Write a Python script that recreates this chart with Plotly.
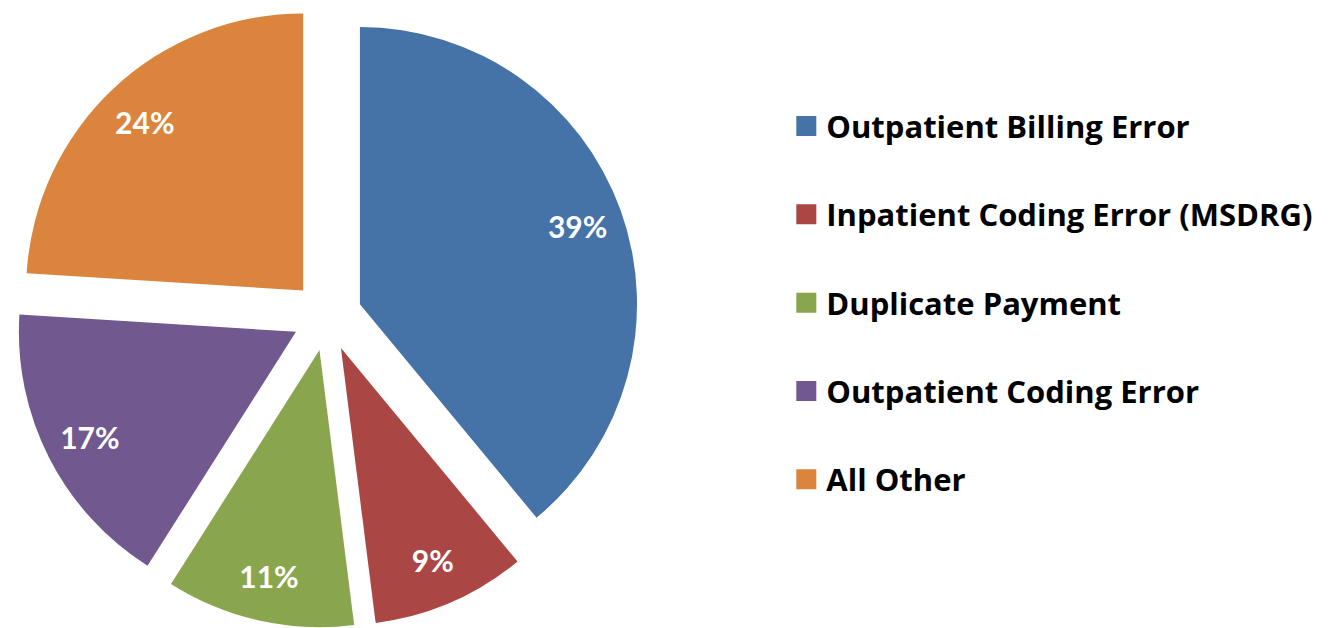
import plotly.graph_objects as go

categories = ["Outpatient Billing Error", "Inpatient Coding Error (MSDRG)",
              "Duplicate Payment", "Outpatient Coding Error", "All Other"]
values = [39, 9, 11, 17, 24]
colors = ["#4572A7", "#AA4643", "#89A54E", "#71588F", "#DB843D"]
pull = 0.126
dom = dict(x=[0, 0.49], y=[0, 1])

fig = go.Figure()
# coloured slices
fig.add_trace(go.Pie(
    labels=categories, values=values, sort=False, direction="clockwise",
    marker=dict(colors=colors, line=dict(width=0)),
    pull=[pull] * len(values), textinfo="none",
    showlegend=False, domain=dom, hoverinfo="label+percent",
))
# transparent ring carrying the percentage labels (places them near the rim)
fig.add_trace(go.Pie(
    labels=categories, values=values, sort=False, direction="clockwise",
    marker=dict(colors=["rgba(0,0,0,0)"] * len(values), line=dict(width=0)),
    pull=[pull] * len(values), hole=0.67,
    texttemplate="<b>%{percent:.0%}</b>", textposition="inside",
    insidetextorientation="horizontal",
    textfont=dict(family="Lato", size=30, color="white"),
    showlegend=False, domain=dom, hoverinfo="skip",
))
for i, (c, col) in enumerate(zip(categories, colors)):
    fig.add_trace(go.Scatter(
        x=[None], y=[None], mode="markers", name=f"<b>{c}</b>",
        marker=dict(symbol="square", size=16, color=col,
                    line=dict(width=4, color=col)),
        legendgroup=f"g{i}", showlegend=True,
    ))

fig.update_layout(
    width=1335, height=628,
    margin=dict(l=0, r=0, t=4, b=0),
    paper_bgcolor="white", plot_bgcolor="white",
    xaxis=dict(visible=False), yaxis=dict(visible=False),
    legend=dict(x=0.589, y=0.521, xanchor="left", yanchor="middle",
                font=dict(family="Open Sans", size=31, color="black"),
                tracegroupgap=45, itemsizing="trace"),
)
fig.write_html("out.html", config={"displayModeBar": False},
               post_script="document.body.style.margin='0px';")
